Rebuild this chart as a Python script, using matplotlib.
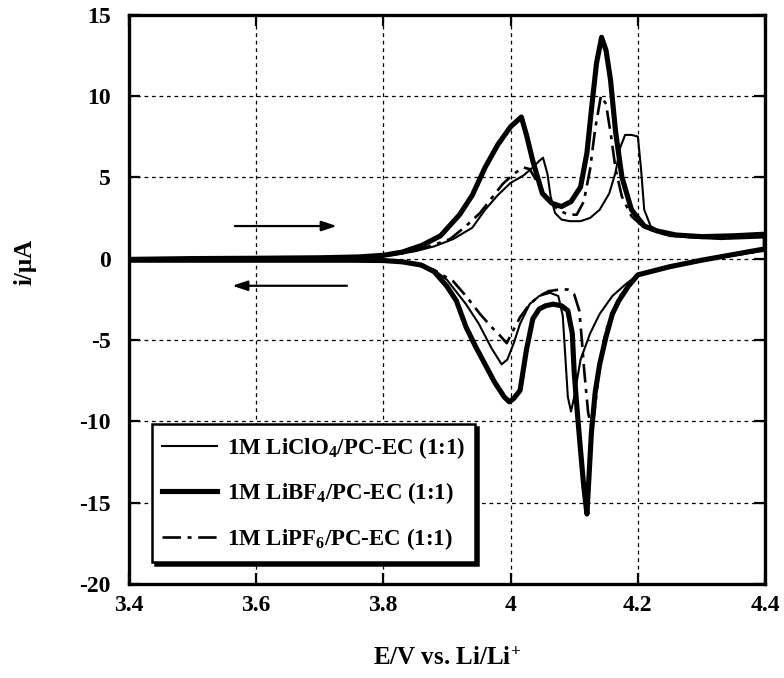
import matplotlib
matplotlib.use("Agg")
import matplotlib.pyplot as plt
from matplotlib.lines import Line2D

# ---------------- data ----------------
# LiBF4 (thick solid)
bf4_E_an = [3.40, 3.50, 3.60, 3.70, 3.76, 3.80, 3.83, 3.86, 3.89, 3.92, 3.94, 3.96, 3.98, 4.00, 4.017,
            4.025, 4.035, 4.05, 4.065, 4.08, 4.095, 4.11, 4.12, 4.128, 4.135, 4.143, 4.15, 4.157, 4.165,
            4.175, 4.19, 4.21, 4.23, 4.26, 4.30, 4.35, 4.40]
bf4_i_an = [-0.05, 0.0, 0.02, 0.05, 0.1, 0.2, 0.4, 0.8, 1.4, 2.7, 3.9, 5.6, 7.0, 8.1, 8.7,
            7.6, 6.0, 4.0, 3.4, 3.2, 3.5, 4.4, 6.5, 9.5, 12.0, 13.6, 12.8, 11.0, 7.8,
            5.0, 3.0, 2.0, 1.7, 1.45, 1.35, 1.4, 1.5]
bf4_E_ca = [4.40, 4.35, 4.30, 4.25, 4.20, 4.185, 4.17, 4.16, 4.15, 4.14, 4.133, 4.127, 4.12, 4.115,
            4.11, 4.105, 4.10, 4.097, 4.09, 4.08, 4.067, 4.055, 4.045, 4.035, 4.025, 4.015, 4.005,
            3.998, 3.99, 3.975, 3.96, 3.945, 3.93, 3.915, 3.90, 3.88, 3.86, 3.83, 3.80, 3.75, 3.70,
            3.60, 3.50, 3.40]
bf4_i_ca = [0.6, 0.25, -0.1, -0.5, -1.0, -1.7, -2.6, -3.4, -4.8, -6.5, -8.2, -10.7, -15.7, -14.0,
            -11.8, -9.5, -7.0, -4.6, -3.2, -2.9, -2.8, -2.9, -3.1, -3.7, -5.6, -8.1, -8.6,
            -8.8, -8.5, -7.6, -6.5, -5.4, -4.2, -2.6, -1.7, -0.8, -0.4, -0.2, -0.12, -0.1, -0.1,
            -0.1, -0.1, -0.1]

# LiClO4 (thin solid)
clo4_E_an = [3.40, 3.50, 3.60, 3.70, 3.78, 3.82, 3.85, 3.88, 3.91, 3.94, 3.96, 3.98, 4.00, 4.02,
             4.035, 4.045, 4.051, 4.058, 4.063, 4.07, 4.08, 4.093, 4.11, 4.125, 4.14, 4.155, 4.165,
             4.172, 4.18, 4.19, 4.20, 4.205, 4.21, 4.22, 4.24, 4.28, 4.33, 4.40]
clo4_i_an = [-0.05, 0.0, 0.02, 0.05, 0.1, 0.25, 0.45, 0.75, 1.2, 1.9, 3.0, 3.9, 4.65, 5.1,
             5.6, 6.0, 6.2, 5.2, 3.8, 2.8, 2.4, 2.3, 2.3, 2.5, 3.0, 4.0, 5.3,
             6.8, 7.6, 7.6, 7.5, 5.5, 3.0, 2.0, 1.5, 1.3, 1.2, 1.3]
clo4_E_ca = [4.40, 4.35, 4.30, 4.25, 4.20, 4.18, 4.16, 4.14, 4.125, 4.11, 4.10, 4.095, 4.09, 4.086,
             4.082, 4.075, 4.062, 4.045, 4.03, 4.015, 4.005, 3.995, 3.986, 3.97, 3.95, 3.93, 3.90,
             3.88, 3.85, 3.82, 3.78, 3.70, 3.60, 3.50, 3.40]
clo4_i_ca = [0.5, 0.2, -0.15, -0.55, -1.0, -1.6, -2.3, -3.4, -4.6, -6.2, -8.5, -9.4, -8.5, -6.0,
             -3.5, -2.3, -2.1, -2.3, -2.8, -4.0, -5.2, -6.2, -6.5, -5.5, -4.0, -2.8, -1.3,
             -0.7, -0.35, -0.15, -0.1, -0.1, -0.1, -0.1, -0.1]

# LiPF6 (dash-dot)
pf6_E_an = [3.40, 3.60, 3.78, 3.82, 3.85, 3.88, 3.905, 3.93, 3.952, 3.97, 3.988, 4.005, 4.02, 4.03,
            4.045, 4.06, 4.075, 4.09, 4.104, 4.115, 4.125, 4.133, 4.142, 4.15, 4.158, 4.165, 4.175,
            4.19, 4.21, 4.25, 4.30, 4.35, 4.40]
pf6_i_an = [-0.05, 0.02, 0.1, 0.25, 0.5, 0.85, 1.2, 2.0, 2.8, 3.7, 4.6, 5.2, 5.6, 5.5,
            4.5, 3.6, 3.0, 2.7, 2.7, 3.5, 5.5, 8.0, 10.0, 9.5, 7.5, 5.5, 3.8,
            2.6, 1.9, 1.4, 1.3, 1.3, 1.4]
pf6_E_ca = [4.40, 4.30, 4.20, 4.17, 4.15, 4.14, 4.133, 4.128, 4.122, 4.116, 4.112, 4.108, 4.10,
            4.09, 4.077, 4.06, 4.045, 4.03, 4.015, 4.003, 3.994, 3.985, 3.97, 3.952, 3.93, 3.91,
            3.88, 3.85, 3.82, 3.78, 3.60, 3.40]
pf6_i_ca = [0.5, -0.1, -1.0, -2.4, -4.4, -6.5, -9.0, -10.5, -9.5, -7.0, -5.0, -3.2, -2.2,
            -1.9, -1.9, -2.0, -2.3, -2.8, -3.6, -4.5, -5.2, -4.8, -4.2, -3.4, -2.3, -1.4,
            -0.7, -0.35, -0.15, -0.1, -0.1, -0.1]

legend_labels = [r"1M LiClO$_\mathbf{4}$/PC-EC (1:1)",
                 r"1M LiBF$_\mathbf{4}$/PC-EC (1:1)",
                 r"1M LiPF$_\mathbf{6}$/PC-EC (1:1)"]
x_ticks = [3.4, 3.6, 3.8, 4.0, 4.2, 4.4]
x_tick_labels = ["3.4", "3.6", "3.8", "4", "4.2", "4.4"]
y_ticks = [-20, -15, -10, -5, 0, 5, 10, 15]

# ---------------- style ----------------
plt.rcParams['font.family'] = ['Liberation Serif', 'DejaVu Serif']
plt.rcParams['font.weight'] = 'bold'
plt.rcParams['axes.unicode_minus'] = False
plt.rcParams['mathtext.fontset'] = 'custom'
plt.rcParams['mathtext.rm'] = 'Liberation Serif:bold'
plt.rcParams['mathtext.bf'] = 'Liberation Serif:bold'
plt.rcParams['mathtext.it'] = 'Liberation Serif:bold:italic'

fig = plt.figure(figsize=(7.84, 6.78), dpi=100)
ax = fig.add_axes([0.164, 0.1386, 0.812, 0.84])

thin_kw = dict(color='black', lw=1.5, solid_joinstyle='round')
thick_kw = dict(color='black', lw=3.7, solid_joinstyle='round')
dd_kw = dict(color='black', lw=1.9, linestyle=(0, (7, 2.5, 1.5, 2.5)))

ax.plot(clo4_E_an + clo4_E_ca, clo4_i_an + clo4_i_ca, **thin_kw)
ax.plot(pf6_E_an + pf6_E_ca, pf6_i_an + pf6_i_ca, **dd_kw)
ax.plot(bf4_E_an + bf4_E_ca, bf4_i_an + bf4_i_ca, **thick_kw)

ax.set_xlim(3.4, 4.4)
ax.set_ylim(-20, 15)
ax.set_xticks(x_ticks)
ax.set_xticklabels(x_tick_labels)
ax.set_yticks(y_ticks)

ax.grid(True, color='black', lw=0.9, linestyle=(0, (3, 3)))
for s in ax.spines.values():
    s.set_linewidth(2.4)
ax.tick_params(direction='in', length=8, width=1.6, top=True, right=True,
               labelsize=17)
ax.tick_params(axis='x', pad=8)
ax.tick_params(axis='y', pad=13)
for lab in ax.get_xticklabels() + ax.get_yticklabels():
    lab.set_fontweight('bold')

ax.set_xlabel(r"E/V vs. Li/Li$^\mathbf{+}$", fontsize=18, fontweight='bold', labelpad=22)
ax.set_ylabel("i/\u03bcA", fontsize=18, fontweight='bold')
ax.yaxis.set_label_coords(-0.144, 0.565)

# scan direction arrows
ax.annotate("", xy=(3.727, 2.0), xytext=(3.567, 2.0),
            arrowprops=dict(arrowstyle="-|>,head_length=0.9,head_width=0.3", color='black', lw=1.6,
                            shrinkA=0, shrinkB=0))
ax.annotate("", xy=(3.563, -1.67), xytext=(3.743, -1.67),
            arrowprops=dict(arrowstyle="-|>,head_length=0.9,head_width=0.3", color='black', lw=1.6,
                            shrinkA=0, shrinkB=0))

handles = [Line2D([], [], **thin_kw), Line2D([], [], **thick_kw), Line2D([], [], **dd_kw)]
leg = ax.legend(handles, legend_labels, loc='lower left', bbox_to_anchor=(0.037, 0.039),
                borderaxespad=0, fancybox=False, framealpha=1, edgecolor='black',
                prop={'family': 'Liberation Serif', 'weight': 'bold', 'size': 16.5},
                handlelength=2.4, handletextpad=0.4, labelspacing=0.85, borderpad=0.45,
                shadow={'color': 'black', 'alpha': 1.0})
leg.get_frame().set_linewidth(1.8)

fig.savefig("out.png", dpi=100)
